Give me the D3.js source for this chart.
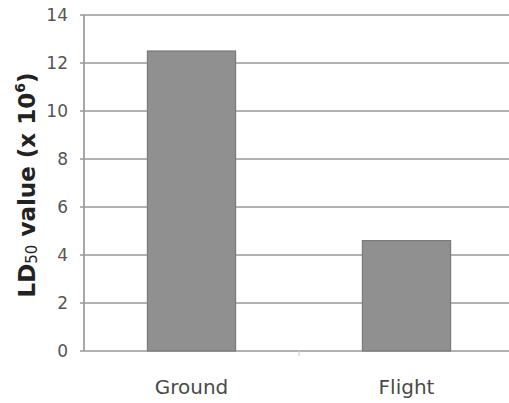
<!DOCTYPE html>
<html><head><meta charset="utf-8">
<script src="https://cdn.jsdelivr.net/npm/d3@7"></script>
<style>body{margin:0;background:#fff}svg{display:block}</style>
</head><body>
<svg id="c" width="509" height="403"></svg>
<script>
const categories = ["Ground", "Flight"];
const values = [12.5, 4.6];
const yTicks = [0, 2, 4, 6, 8, 10, 12, 14];

const svg = d3.select("#c");
const m = {left: 84, top: 15, bottom: 351};
const x = d3.scaleBand().domain(categories).range([m.left, m.left + 430]).paddingInner(0.59).paddingOuter(0.295);
const xb = d3.scaleBand().domain(categories).range([m.left, m.left + 430]);
const y = d3.scaleLinear().domain([0, 14]).range([m.bottom, m.top]);
const font = "'DejaVu Sans', Verdana, sans-serif";

// gridlines
svg.append("g").selectAll("line").data(yTicks).join("line")
  .attr("x1", m.left - 4).attr("x2", 509)
  .attr("y1", d => y(d)).attr("y2", d => y(d))
  .attr("stroke", "#999").attr("stroke-width", 1.7);

// y axis line
svg.append("line").attr("x1", m.left).attr("x2", m.left).attr("y1", y(14)).attr("y2", y(0))
  .attr("stroke", "#999").attr("stroke-width", 1.7);

// category boundary ticks
svg.append("g").selectAll("line").data(categories).join("line")
  .attr("x1", d => xb(d) + xb.bandwidth()).attr("x2", d => xb(d) + xb.bandwidth())
  .attr("y1", y(0)).attr("y2", y(0) + 5)
  .attr("stroke", "#d0d0d0").attr("stroke-width", 1.2);

// bars
svg.append("g").selectAll("rect").data(categories).join("rect")
  .attr("x", d => x(d)).attr("width", x.bandwidth())
  .attr("y", (d, i) => y(values[i])).attr("height", (d, i) => y(0) - y(values[i]))
  .attr("fill", "#909090").attr("stroke", "#7a7a7a").attr("stroke-width", 1.2);

// y tick labels
svg.append("g").selectAll("text").data(yTicks).join("text")
  .attr("x", m.left - 16).attr("y", d => y(d)).attr("dy", "0.36em")
  .attr("text-anchor", "end").attr("font-family", font).attr("font-size", 17)
  .attr("fill", "#555").text(d => d);

// x labels
svg.append("g").selectAll("text").data(categories).join("text")
  .attr("x", d => x(d) + x.bandwidth() / 2).attr("y", 387).attr("dy", "0.36em")
  .attr("text-anchor", "middle").attr("font-family", font).attr("font-size", 20)
  .attr("fill", "#4a4a4a").text(d => d);

// y title
const t = svg.append("text")
  .attr("transform", `translate(35,${(m.top + m.bottom) / 2 + 2}) rotate(-90)`)
  .attr("text-anchor", "middle").attr("font-family", font).attr("font-size", 23)
  .attr("font-weight", "bold").attr("fill", "#222");
t.append("tspan").text("LD");
t.append("tspan").attr("font-size", 15).attr("font-weight", "normal").attr("dy", 2).text("50");
t.append("tspan").attr("dy", -2).text(" value (x 10");
t.append("tspan").attr("font-size", 14).attr("dy", -10).text("6");
t.append("tspan").attr("dy", 10).text(")");
</script>
</body></html>
